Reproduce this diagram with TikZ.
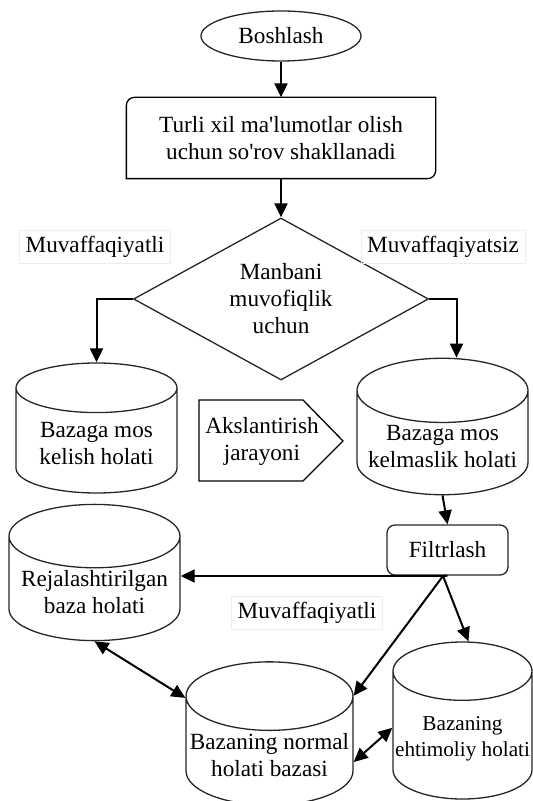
\documentclass[tikz,border=0pt]{standalone}
\usepackage{fontspec}
\setmainfont{Liberation Serif}
\usetikzlibrary{shapes.geometric,arrows.meta,positioning,calc}
\tikzset{
  basebox/.style={draw=black!85,line width=0.65pt,align=center,
                  font=\fontsize{11.6}{13.5}\selectfont},
  termnode/.style={basebox,ellipse,minimum width=80pt,minimum height=25pt,inner sep=0pt},
  procnode/.style={basebox,draw=none,minimum width=154pt,minimum height=40pt},
  decnode/.style={basebox,diamond,aspect=1.82,minimum width=147.5pt,
                  minimum height=81pt,inner sep=0pt},
  dbnode/.style={basebox,cylinder,shape border rotate=90,aspect=0.42,
                 anchor=shape center,inner sep=1pt},
  mapnode/.style={basebox,draw=none,inner sep=0pt},
  filtnode/.style={basebox,rounded corners=4pt,minimum width=60.5pt,minimum height=25pt},
  lbl/.style={draw=black!7,line width=0.3pt,inner sep=3pt,
              font=\fontsize{11.6}{13.5}\selectfont},
  arr/.style={-{Triangle[width=6.5pt,length=7pt]},line width=1pt},
  dblarr/.style={{Triangle[width=6.5pt,length=7pt]}-{Triangle[width=6.5pt,length=7pt]},
                 line width=1pt}
}
\begin{document}
\begin{tikzpicture}[x=0.5pt,y=-0.5pt]
  \useasboundingbox (0,0) rectangle (533,801);

  \node[termnode] (start) at (281,36) {Boshlash};
  \node[procnode] (query) at (281,138)
      {Turli xil ma\textquotesingle lumotlar olish\\uchun so\textquotesingle rov shakllanadi};
  \draw[line width=0.65pt,rounded corners=4pt] (query.west) |- (query.north)
      [sharp corners] -| (query.east) [rounded corners=4pt] |- (query.south)
      [sharp corners] -| (query.west) -- cycle;

  % Decision
  \node[decnode] (check) at (281,299) {Manbani\\muvofiqlik\\uchun};
  \node[lbl] (lblok) at (95,247) {Muvaffaqiyatli};
  \node[lbl] (lblno) at (443,247) {Muvaffaqiyatsiz};

  % Databases after the check
  \node[dbnode,minimum width=80.5pt,minimum height=65pt] (okdb) at (96.5,428)
      {Bazaga mos\\kelish holati};
  \node[dbnode,minimum width=85.5pt,minimum height=66.5pt] (nodb) at (442.5,426.5)
      {Bazaga mos\\kelmaslik holati};
  \node[mapnode] (map) at (262,441) {Akslantirish\\jarayoni};
  \draw[line width=0.65pt] ([shift={(-63,-41)}]map.center) -- ([shift={(41,-41)}]map.center)
      -- ([shift={(81,0)}]map.center) -- ([shift={(41,40)}]map.center)
      -- ([shift={(-63,40)}]map.center) -- cycle;

  % Filtering
  \node[filtnode] (filt) at (447.5,550) {Filtrlash};
  \coordinate (fsplit) at (443,576);
  \node[dbnode,minimum width=85.5pt,minimum height=65.5pt] (plandb) at (94.5,572.5)
      {Rejalashtirilgan\\baza holati};
  \node[lbl] (lblok2) at (307,613) {Muvaffaqiyatli};
  \node[dbnode,minimum width=83.5pt,minimum height=65.5pt] (normdb) at (269.5,733.5)
      {Bazaning normal\\holati bazasi};
  \node[dbnode,minimum width=69.5pt,minimum height=78.5pt,
        font=\fontsize{10.6}{13}\selectfont] (probdb) at (462.5,720.5)
      {Bazaning\\ehtimoliy holati};

  \draw[arr] (start.south) -- (query.north);
  \draw[arr] (query.south) -- (check.north);
  \draw[arr] (check.west) -| (okdb.north);
  \draw[arr] (check.east) -| ([xshift=7pt]nodb.north);
  \draw[arr] (nodb.south) -- (filt.north);
  \draw[line width=1pt] (filt.south) -- (fsplit);
  \draw[arr] (fsplit) -- (fsplit -| plandb.east);
  \draw[arr] (fsplit) -- (normdb.35);
  \draw[arr] (fsplit) -- ([xshift=3pt]probdb.north);
  \draw[dblarr] (plandb.south) -- (normdb.146);
  \draw[dblarr] (normdb.-5) -- (probdb.171);

\end{tikzpicture}
\end{document}
